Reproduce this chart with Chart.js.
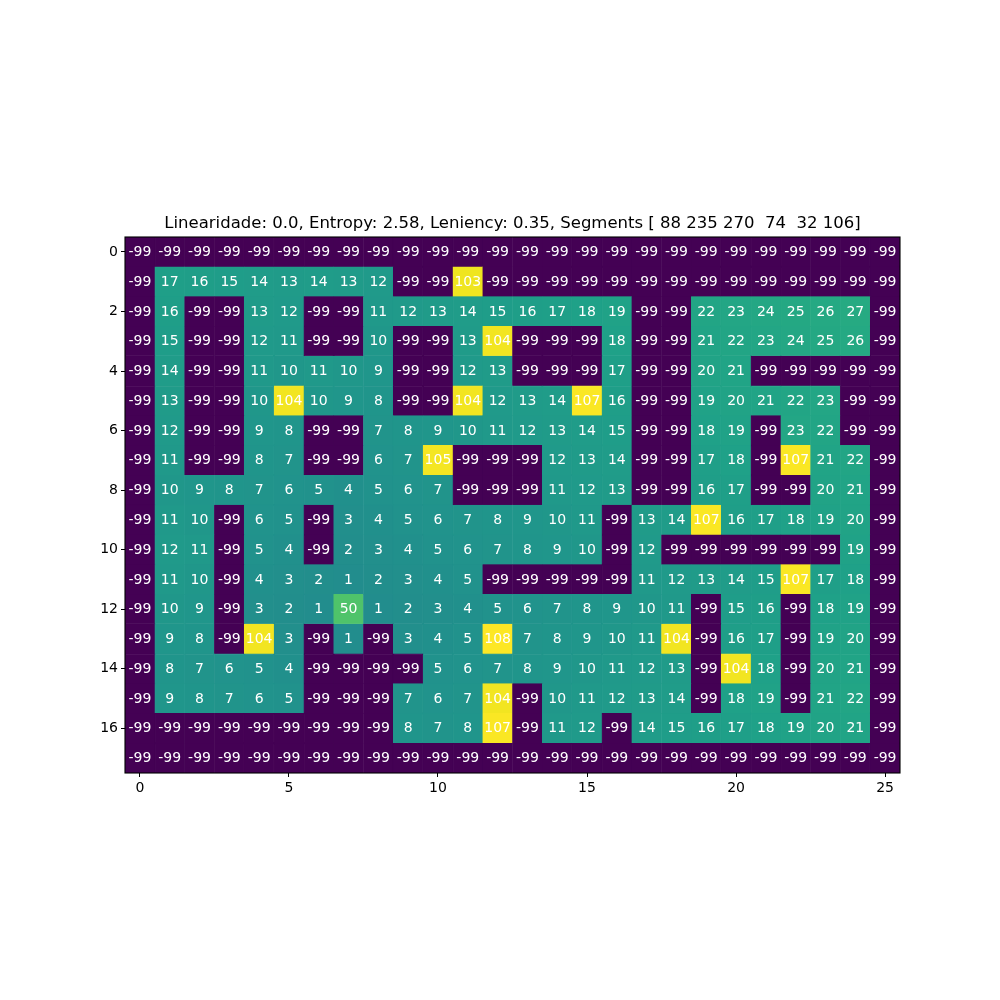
<!DOCTYPE html>
<html>
<head>
<meta charset="utf-8">
<script src="https://cdn.jsdelivr.net/npm/chart.js@4.4.1/dist/chart.umd.min.js"></script>
<style>
  html, body { margin: 0; padding: 0; background: #ffffff; }
  #wrap { width: 1000px; height: 1000px; }
</style>
</head>
<body>
<div id="wrap"><canvas id="c" width="1000" height="1000"></canvas></div>
<script>
const titleText = "Linearidade: 0.0, Entropy: 2.58, Leniency: 0.35, Segments [ 88 235 270  74  32 106]";
const xTicks = [0, 5, 10, 15, 20, 25];
const yTicks = [0, 2, 4, 6, 8, 10, 12, 14, 16];

const row0  = [-99,-99,-99,-99,-99,-99,-99,-99,-99,-99,-99,-99,-99,-99,-99,-99,-99,-99,-99,-99,-99,-99,-99,-99,-99,-99];
const row1  = [-99,17,16,15,14,13,14,13,12,-99,-99,103,-99,-99,-99,-99,-99,-99,-99,-99,-99,-99,-99,-99,-99,-99];
const row2  = [-99,16,-99,-99,13,12,-99,-99,11,12,13,14,15,16,17,18,19,-99,-99,22,23,24,25,26,27,-99];
const row3  = [-99,15,-99,-99,12,11,-99,-99,10,-99,-99,13,104,-99,-99,-99,18,-99,-99,21,22,23,24,25,26,-99];
const row4  = [-99,14,-99,-99,11,10,11,10,9,-99,-99,12,13,-99,-99,-99,17,-99,-99,20,21,-99,-99,-99,-99,-99];
const row5  = [-99,13,-99,-99,10,104,10,9,8,-99,-99,104,12,13,14,107,16,-99,-99,19,20,21,22,23,-99,-99];
const row6  = [-99,12,-99,-99,9,8,-99,-99,7,8,9,10,11,12,13,14,15,-99,-99,18,19,-99,23,22,-99,-99];
const row7  = [-99,11,-99,-99,8,7,-99,-99,6,7,105,-99,-99,-99,12,13,14,-99,-99,17,18,-99,107,21,22,-99];
const row8  = [-99,10,9,8,7,6,5,4,5,6,7,-99,-99,-99,11,12,13,-99,-99,16,17,-99,-99,20,21,-99];
const row9  = [-99,11,10,-99,6,5,-99,3,4,5,6,7,8,9,10,11,-99,13,14,107,16,17,18,19,20,-99];
const row10 = [-99,12,11,-99,5,4,-99,2,3,4,5,6,7,8,9,10,-99,12,-99,-99,-99,-99,-99,-99,19,-99];
const row11 = [-99,11,10,-99,4,3,2,1,2,3,4,5,-99,-99,-99,-99,-99,11,12,13,14,15,107,17,18,-99];
const row12 = [-99,10,9,-99,3,2,1,50,1,2,3,4,5,6,7,8,9,10,11,-99,15,16,-99,18,19,-99];
const row13 = [-99,9,8,-99,104,3,-99,1,-99,3,4,5,108,7,8,9,10,11,104,-99,16,17,-99,19,20,-99];
const row14 = [-99,8,7,6,5,4,-99,-99,-99,-99,5,6,7,8,9,10,11,12,13,-99,104,18,-99,20,21,-99];
const row15 = [-99,9,8,7,6,5,-99,-99,-99,7,6,7,104,-99,10,11,12,13,14,-99,18,19,-99,21,22,-99];
const row16 = [-99,-99,-99,-99,-99,-99,-99,-99,-99,8,7,8,107,-99,11,12,-99,14,15,16,17,18,19,20,21,-99];
const row17 = [-99,-99,-99,-99,-99,-99,-99,-99,-99,-99,-99,-99,-99,-99,-99,-99,-99,-99,-99,-99,-99,-99,-99,-99,-99,-99];

const rows = [row0,row1,row2,row3,row4,row5,row6,row7,row8,row9,row10,row11,row12,row13,row14,row15,row16,row17];

// viridis colormap anchors
const VIR = [
  [0.0,[68,1,84]],[0.0625,[72,24,106]],[0.125,[71,45,123]],[0.1875,[66,64,134]],
  [0.25,[59,82,139]],[0.3125,[51,99,141]],[0.375,[44,114,142]],[0.4375,[38,130,142]],
  [0.5,[33,145,140]],[0.5625,[31,160,136]],[0.625,[40,174,128]],[0.6875,[63,188,115]],
  [0.75,[94,201,98]],[0.8125,[132,212,75]],[0.875,[173,220,48]],[0.9375,[216,226,25]],
  [1.0,[253,231,37]]
];
function viridis(t) {
  t = Math.max(0, Math.min(1, t));
  for (let i = 1; i < VIR.length; i++) {
    if (t <= VIR[i][0]) {
      const a = VIR[i-1], b = VIR[i];
      const f = (t - a[0]) / (b[0] - a[0]);
      const c = a[1].map((v, k) => Math.round(v + (b[1][k] - v) * f));
      return `rgb(${c[0]},${c[1]},${c[2]})`;
    }
  }
  return 'rgb(253,231,37)';
}

let vmin = Infinity, vmax = -Infinity;
rows.forEach(r => r.forEach(v => { vmin = Math.min(vmin, v); vmax = Math.max(vmax, v); }));

const cells = [];
rows.forEach((r, ri) => r.forEach((v, ci) => {
  cells.push({ x: ci, y: [ri - 0.5, ri + 0.5], v: v });
}));
const colors = cells.map(c => viridis((c.v - vmin) / (vmax - vmin)));

const FONT = "'DejaVu Sans', sans-serif";

const framePlugin = {
  id: 'frame',
  afterDatasetsDraw(chart) {
    const ctx = chart.ctx;
    const meta = chart.getDatasetMeta(0);
    ctx.save();
    ctx.fillStyle = '#ffffff';
    ctx.font = `14px ${FONT}`;
    ctx.textAlign = 'center';
    ctx.textBaseline = 'middle';
    meta.data.forEach((el, i) => {
      const c = cells[i];
      const cy = (el.y + el.base) / 2;
      ctx.fillText(String(c.v), el.x, cy + 0.5);
    });
    const a = chart.chartArea;
    ctx.strokeStyle = '#000000';
    ctx.lineWidth = 1.1;
    ctx.strokeRect(a.left, a.top, a.right - a.left, a.bottom - a.top);
    ctx.fillStyle = '#000000';
    ctx.font = `16.5px ${FONT}`;
    ctx.textBaseline = 'alphabetic';
    ctx.fillText(titleText, (a.left + a.right) / 2, a.top - 9);
    ctx.restore();
  }
};

new Chart(document.getElementById('c'), {
  type: 'bar',
  data: {
    datasets: [{
      data: cells,
      backgroundColor: colors,
      borderColor: colors,
      borderWidth: 0.6,
      borderSkipped: false,
      barPercentage: 1.0,
      categoryPercentage: 1.0,
      grouped: false
    }]
  },
  plugins: [framePlugin],
  options: {
    responsive: false,
    animation: false,
    events: [],
    layout: { padding: { left: 82, right: 100, top: 237, bottom: 200 } },
    plugins: { legend: { display: false }, title: { display: false }, tooltip: { enabled: false } },
    scales: {
      x: {
        type: 'linear',
        min: -0.5, max: 25.5,
        offset: false,
        afterBuildTicks: s => { s.ticks = xTicks.map(v => ({ value: v })); },
        afterFit: s => { s.height = 27; },
        grid: { display: true, offset: false, drawOnChartArea: false, drawTicks: true, tickLength: 4, tickColor: '#000', lineWidth: 1 },
        border: { display: false },
        ticks: { color: '#000', font: { family: FONT, size: 14 }, padding: 3, maxRotation: 0, autoSkip: false }
      },
      y: {
        type: 'linear',
        reverse: true,
        min: -0.5, max: 17.5,
        afterBuildTicks: s => { s.ticks = yTicks.map(v => ({ value: v })); },
        afterFit: s => { s.width = 43; },
        grid: { display: true, offset: false, drawOnChartArea: false, drawTicks: true, tickLength: 4, tickColor: '#000', lineWidth: 1 },
        border: { display: false },
        ticks: { color: '#000', font: { family: FONT, size: 14 }, padding: 3, autoSkip: false }
      }
    }
  }
});
</script>
</body>
</html>
